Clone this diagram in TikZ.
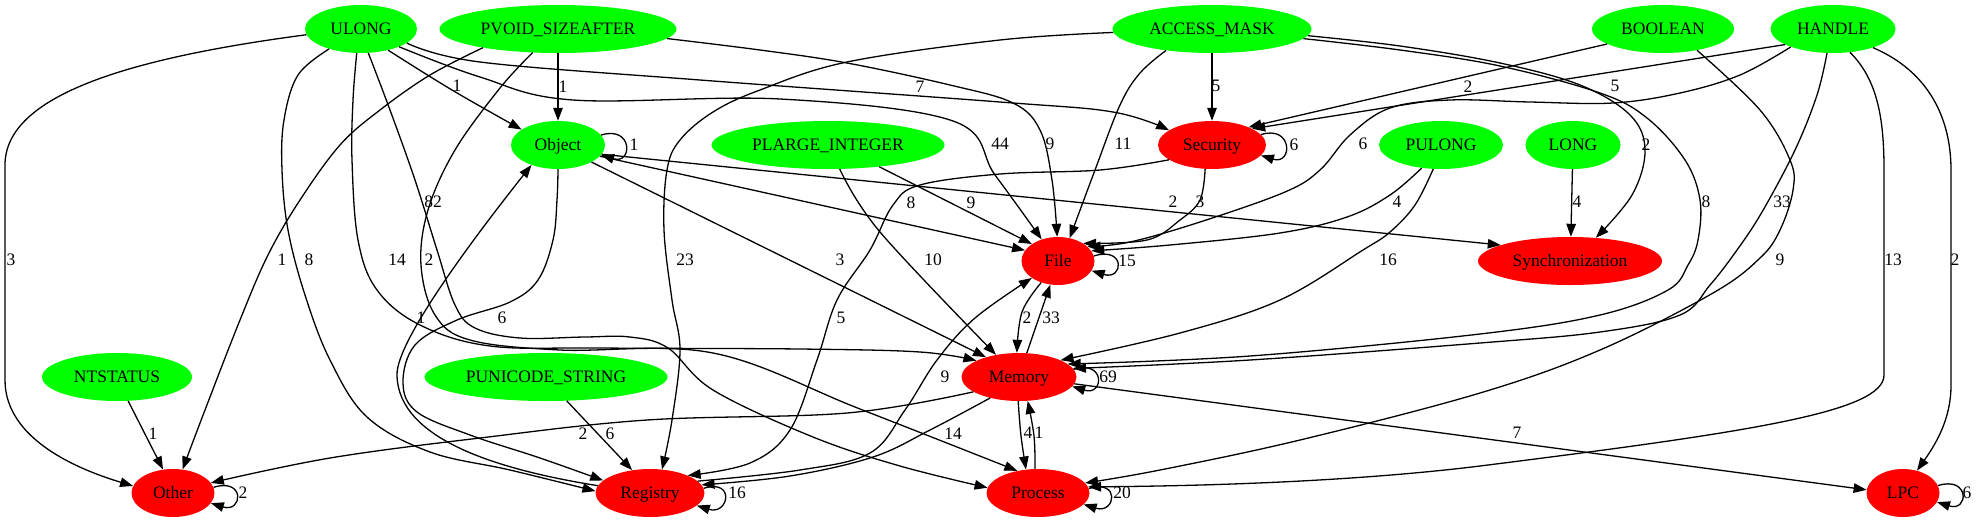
\documentclass[tikz,border=0pt]{standalone}
\usepackage{fontspec}
\setmainfont{Liberation Serif}
\usetikzlibrary{shapes.geometric,arrows.meta}
\definecolor{gvgreen}{RGB}{0,255,0}
\definecolor{gvred}{RGB}{255,0,0}
\newcommand\gvf{\fontsize{17.5}{20}\selectfont}
\begin{document}
\begin{tikzpicture}[x=1pt,y=-1pt,
  nd/.style={ellipse, inner sep=0pt, minimum height=48pt, font=\gvf, text height=14.5pt, text depth=4pt},
  gn/.style={nd, fill=gvgreen},
  rn/.style={nd, fill=gvred},
  lab/.style={font=\gvf, inner sep=0pt},
  ed/.style={line width=1.3pt, -{Triangle[length=13pt,width=9.5pt]}},
  sm/.style={smooth, tension=0.6}]
\useasboundingbox (0,0) rectangle (1977,523);
% nodes
\node[gn, minimum width=112pt] (ULONG) at (361,29) {ULONG};
\node[gn, minimum width=237pt] (PVOID) at (558,29) {PVOID\_SIZEAFTER};
\node[gn, minimum width=199pt] (ACCESS) at (1212,29) {ACCESS\_MASK};
\node[gn, minimum width=142pt] (BOOLEAN) at (1663,29) {BOOLEAN};
\node[gn, minimum width=125pt] (HANDLE) at (1833,29) {HANDLE};
\node[gn, minimum width=94pt] (Object) at (558,145) {Object};
\node[gn, minimum width=233pt] (PLARGE) at (828,145) {PLARGE\_INTEGER};
\node[rn, minimum width=108pt] (Security) at (1212,145) {Security};
\node[gn, minimum width=124pt] (PULONG) at (1441,145) {PULONG};
\node[gn, minimum width=95pt] (LONG) at (1573,145) {LONG};
\node[rn, minimum width=73pt] (File) at (1058,261) {File};
\node[rn, minimum width=184pt] (Sync) at (1570,261) {Synchronization};
\node[gn, minimum width=150pt] (NTSTATUS) at (117,377) {NTSTATUS};
\node[gn, minimum width=243pt] (PUNICODE) at (546,377) {PUNICODE\_STRING};
\node[rn, minimum width=115pt] (Memory) at (1019,377) {Memory};
\node[rn, minimum width=83pt] (Other) at (173,493) {Other};
\node[rn, minimum width=109pt] (Registry) at (650,493) {Registry};
\node[rn, minimum width=103pt] (Process) at (1038,493) {Process};
\node[rn, minimum width=73pt] (LPC) at (1903,493) {LPC};
% ULONG edges
\draw[ed] (ULONG.186) .. controls (130,58) and (5,95) .. (5,165) -- (5,380) .. controls (5,440) and (80,470) .. (Other.170);
\draw[ed] plot[sm] coordinates {(ULONG.-38) (452,90) (Object.157)};
\draw[ed] plot[sm] coordinates {(ULONG.-17) (480,62) (700,80) (1000,102) (1113,112) (Security.161)};
\draw[ed] plot[sm] coordinates {(ULONG.-25) (480,77) (573,100) (780,99) (953,121) (995,175) (File.127)};
\draw[ed] plot[sm] coordinates {(ULONG.212) (298,75) (284,120) (282,170) (288,230) (305,295) (330,360) (367,417) (430,452) (510,470) (Registry.178)};
\draw[ed] plot[sm] coordinates {(ULONG.260) (353,100) (352,160) (358,240) (377,290) (420,325) (490,346) (600,348) (800,349) (920,352) (Memory.159)};
\draw[ed] plot[sm] coordinates {(ULONG.-73) (390,110) (415,180) (437,250) (455,305) (475,328) (520,338) (585,337) (630,337) (668,348) (713,390) (813,437) (900,466) (Process.174)};
% PVOID edges
\draw[ed] plot[sm] coordinates {(PVOID.223) (500,88) (455,150) (428,210) (421,265) (435,315) (470,340) (560,350) (713,353) (860,409) (Process.133)};
\draw[ed] plot[sm] coordinates {(PVOID.194) (430,75) (380,110) (340,145) (300,200) (268,255) (240,320) (205,410) (Other.68)};
\draw[ed] (PVOID) -- (Object);
\draw[ed] plot[sm] coordinates {(PVOID.-5) (760,50) (847,63) (950,85) (1013,103) (1040,130) (1052,180) (File.92)};
% ACCESS_MASK edges
\draw[ed] plot[sm] coordinates {(ACCESS.182) (1000,40) (847,62) (760,90) (713,112) (680,140) (667,170) (664,230) (672,300) (680,350) (672,420) (Registry.63)};
\draw[ed] plot[sm] coordinates {(ACCESS.205) (1140,73) (1120,105) (1095,170) (File.63)};
\draw[ed] (ACCESS) -- (Security);
\draw[ed] plot[sm] coordinates {(ACCESS.-4) (1400,46) (1500,63) (1580,85) (1630,115) (1645,150) (1632,195) (Sync.42)};
\draw[ed] plot[sm] coordinates {(ACCESS.-6) (1400,50) (1500,66) (1600,93) (1647,118) (1685,160) (1700,200) (1698,240) (1688,265) (1668,290) (1600,315) (1480,334) (1250,356) (Memory.15)};
% BOOLEAN edges
\draw[ed] (BOOLEAN.195) -- (Security.26);
\draw[ed] plot[sm] coordinates {(BOOLEAN.-32) (1760,110) (1790,160) (1793,190) (1780,230) (1760,258) (1713,293) (1600,350) (1480,393) (1300,440) (1160,470) (Process.12)};
% HANDLE edges
\draw[ed] (HANDLE.198) -- (Security.22);
\draw[ed] plot[sm] coordinates {(HANDLE.203) (1740,75) (1680,93) (1613,103) (1530,102) (1450,100) (1390,108) (1350,135) (1320,170) (1285,192) (1200,222) (1130,242) (File.26)};
\draw[ed] plot[sm] coordinates {(HANDLE.256) (1817,95) (1795,150) (1762,212) (1737,250) (1710,285) (1680,315) (1600,332) (1480,343) (1250,360) (Memory.9)};
\draw[ed] (HANDLE.-54) .. controls (1878,80) and (1884,120) .. (1884,170) -- (1884,375) .. controls (1884,412) and (1750,432) .. (1480,466) .. controls (1350,482) and (1200,486) .. (Process.7);
\draw[ed] (HANDLE.-25) .. controls (1930,72) and (1951,120) .. (1951,170) -- (1951,385) .. controls (1951,420) and (1935,445) .. (LPC.58);
\draw[ed] (Memory.-7) -- (LPC.175);
% PULONG, LONG, PLARGE_INTEGER
\draw[ed] plot[sm] coordinates {(PULONG.230) (1390,195) (1347,217) (1280,233) (1170,245) (File.17)};
\draw[ed] plot[sm] coordinates {(PULONG.252) (1415,205) (1390,232) (1363,250) (1280,300) (1180,333) (Memory.22)};
\draw[ed] (LONG) -- (Sync.88);
\draw[ed] (PLARGE.-23) -- (File.147);
\draw[ed] plot[sm] coordinates {(PLARGE.-64) (880,232) (Memory.136)};
% Object edges
\draw[ed] (Object.-27) -- (Memory.149);
\draw[ed] (Object.-15) -- (File.162);
\draw[ed] (Object.-12) -- (Sync.167);
\draw[ed] plot[sm] coordinates {(Object.270) (557,200) (553,240) (538,280) (510,302) (457,320) (415,345) (403,383) (417,412) (470,435) (540,458) (Registry.165)};
\draw[ed] (Registry.172) .. controls (500,470) and (398,440) .. (397,375) .. controls (396,340) and (480,230) .. (Object.217);
% Security edges
\draw[ed] plot[sm] coordinates {(Security.254) (1200,200) (1180,220) (1147,240) (File.35)};
\draw[ed] plot[sm] coordinates {(Security.199) (1100,170) (1000,174) (920,185) (893,205) (870,250) (837,300) (817,360) (790,430) (750,463) (Registry.25)};
% red to red
\draw[ed] plot[sm] coordinates {(Registry.14) (800,470) (870,453) (905,410) (937,360) (975,318) (File.213)};
\draw[ed] plot[sm] coordinates {(Memory.216) (930,430) (873,457) (790,476) (Registry.9)};
\draw[ed] plot[sm] coordinates {(File.232) (1022,312) (Memory.95)};
\draw[ed] (Memory.72) -- (File.252);
\draw[ed] plot[sm] coordinates {(Memory.268) (1021,436) (Process.117)};
\draw[ed] plot[sm] coordinates {(Process.97) (1034,436) (Memory.290)};
\draw[ed] plot[sm] coordinates {(Memory.198) (847,413) (647,420) (480,438) (330,458) (Other.15)};
\draw[ed] (PUNICODE.-49) -- (Registry.128);
\draw[ed] (NTSTATUS.-65) -- (Other.113);
% self loops
\draw[ed] (Object.13) .. controls +(32,-10) and +(32,10) .. (Object.-13);
\draw[ed] (Security.12) .. controls +(32,-10) and +(32,10) .. (Security.-12);
\draw[ed] (File.8) .. controls +(32,-10) and +(32,10) .. (File.-16);
\draw[ed] (Memory.8) .. controls +(32,-10) and +(32,10) .. (Memory.-10);
\draw[ed] (Other.8) .. controls +(32,-10) and +(32,10) .. (Other.-15);
\draw[ed] (Registry.5) .. controls +(32,-10) and +(32,10) .. (Registry.-15);
\draw[ed] (Process.5) .. controls +(32,-10) and +(32,10) .. (Process.-14);
\draw[ed] (LPC.12) .. controls +(32,-10) and +(32,10) .. (LPC.-15);
% labels
\node[lab] (l1) at (11,260) {3};
\node[lab] (l2) at (457,86) {1};
\node[lab] (l3) at (920,87) {7};
\node[lab] (l4) at (1000,144) {44};
\node[lab] (l5) at (309,260) {8};
\node[lab] (l6) at (397,260) {14};
\node[lab] (l7) at (433,202) {82};
\node[lab] (l8) at (429,260) {2};
\node[lab] (l9) at (282,260) {1};
\node[lab] (l10) at (563,87) {1};
\node[lab] (l11) at (1050,144) {9};
\node[lab] (l12) at (685,260) {23};
\node[lab] (l13) at (1123,144) {11};
\node[lab] (l14) at (1216,86) {5};
\node[lab] (l15) at (1646,145) {2};
\node[lab] (l16) at (1706,202) {8};
\node[lab] (l17) at (1468,87) {2};
\node[lab] (l18) at (1780,260) {9};
\node[lab] (l19) at (1615,86) {5};
\node[lab] (l20) at (1363,144) {6};
\node[lab] (l21) at (1782,202) {33};
\node[lab] (l22) at (1893,260) {13};
\node[lab] (l23) at (1955,260) {2};
\node[lab] (l24) at (1517,433) {7};
\node[lab] (l25) at (1397,202) {4};
\node[lab] (l26) at (1388,260) {16};
\node[lab] (l27) at (1577,202) {4};
\node[lab] (l28) at (971,203) {9};
\node[lab] (l29) at (933,260) {10};
\node[lab] (l30) at (840,260) {3};
\node[lab] (l31) at (911,203) {8};
\node[lab] (l32) at (1173,202) {2};
\node[lab] (l33) at (1200,202) {3};
\node[lab] (l34) at (841,318) {5};
\node[lab] (l35) at (945,377) {9};
\node[lab] (l36) at (953,434) {14};
\node[lab] (l37) at (1027,318) {2};
\node[lab] (l38) at (1051,318) {33};
\node[lab] (l39) at (1028,433) {4};
\node[lab] (l40) at (1039,433) {1};
\node[lab] (l41) at (583,434) {2};
\node[lab] (l42) at (610,434) {6};
\node[lab] (l43) at (153,434) {1};
\node[lab] (l44) at (421,318) {1};
\node[lab] (l45) at (502,318) {6};
\node[lab] (l46) at (634,145) {1};
\node[lab] (l47) at (1294,145) {6};
\node[lab] (l48) at (1127,261) {15};
\node[lab] (l49) at (1108,377) {69};
\node[lab] (l50) at (243,493) {2};
\node[lab] (l51) at (737,493) {16};
\node[lab] (l52) at (1122,493) {20};
\node[lab] (l53) at (1967,493) {6};
\end{tikzpicture}
\end{document}
